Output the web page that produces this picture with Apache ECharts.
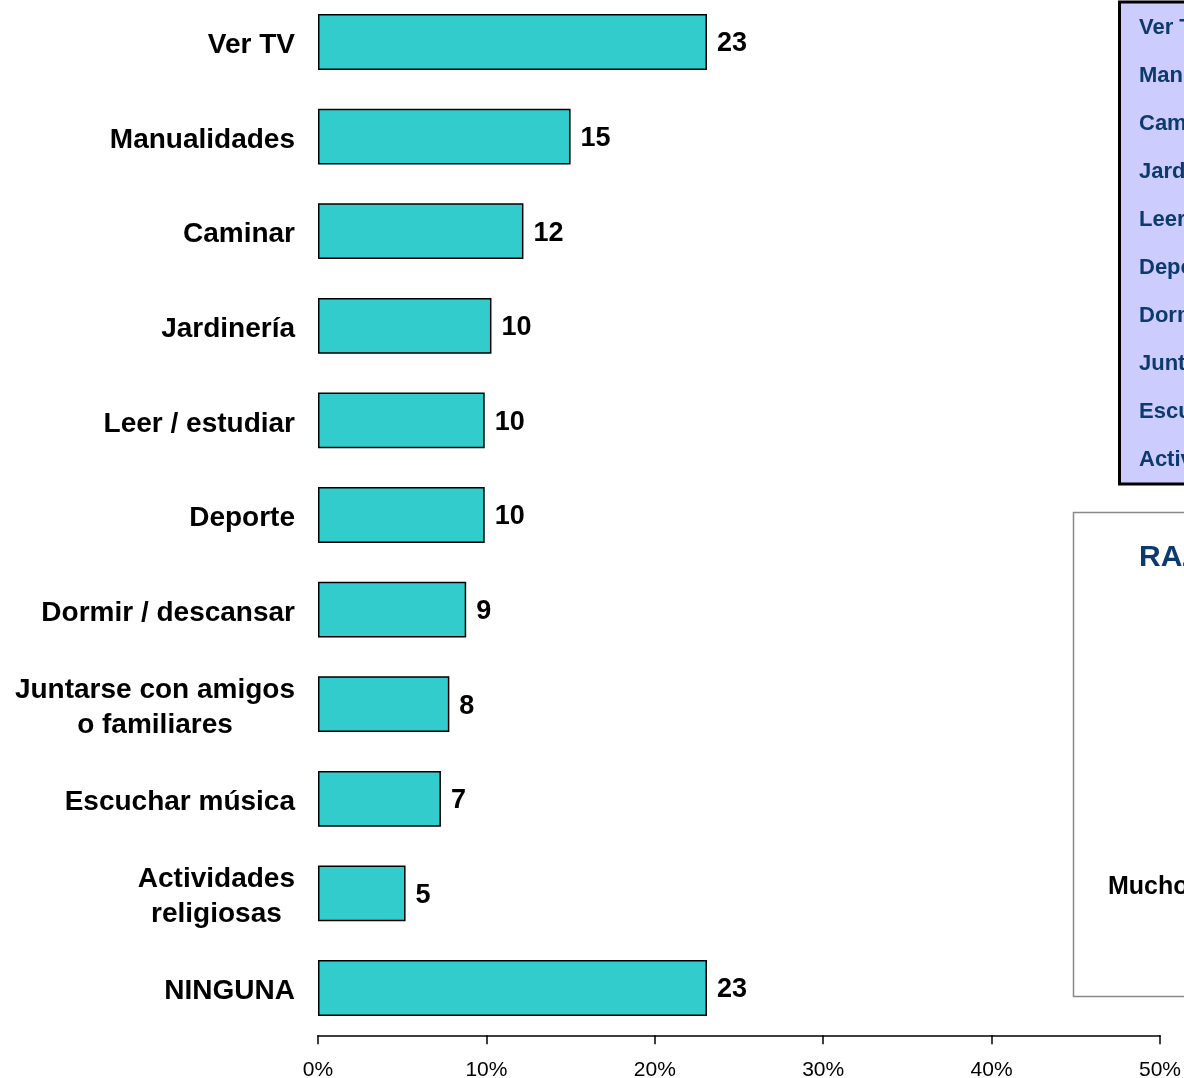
<!DOCTYPE html>
<html lang="es">
<head>
    <meta charset="UTF-8">
    <title>Actividades</title>
    <script src="https://cdn.jsdelivr.net/npm/echarts@6/dist/echarts.min.js"></script>
    <style>
        html, body { margin: 0; padding: 0; background: #fff; }
    </style>
</head>
<body>
    <div id="ec" style="width:1184px;height:1078px"></div>
</body>
<script>
    // datos
    var categories = ['Ver TV', 'Manualidades', 'Caminar', 'Jardinería', 'Leer / estudiar', 'Deporte',
        'Dormir / descansar', 'Juntarse con amigos\no familiares', 'Escuchar música',
        'Actividades\nreligiosas', 'NINGUNA']
    var values = [23.1, 15.0, 12.2, 10.3, 9.9, 9.9, 8.8, 7.8, 7.3, 5.2, 23.1]
    var xTicks = [0, 10, 20, 30, 40, 50]

    // textos del cuadro de la derecha (cortado en el borde)
    var tableRows = ['Ver TV', 'Manualidades', 'Caminar', 'Jardinería', 'Leer / estudiar', 'Deporte',
        'Dormir / descansar', 'Juntarse con amigos', 'Escuchar música', 'Actividades religiosas']
    var boxTitle = 'RAZONES'
    var boxLabel = 'Mucho'

    var ech = document.getElementById("ec")
    var mychart = echarts.init(ech)

    var graphics = [
        {
            type: 'rect',
            shape: { x: 1119.5, y: 2, width: 120, height: 482 },
            style: { fill: '#ccccff', stroke: '#000', lineWidth: 3 }
        },
        {
            type: 'rect',
            shape: { x: 1073.5, y: 512.5, width: 150, height: 484 },
            style: { fill: '#fff', stroke: '#888', lineWidth: 1.5 }
        },
        {
            type: 'text',
            x: 1139, y: 558,
            style: { text: boxTitle, fill: '#0d3a6e', font: 'bold 30px "Liberation Sans", Arial', textVerticalAlign: 'middle' }
        },
        {
            type: 'text',
            x: 1108, y: 887,
            style: { text: boxLabel, fill: '#000', font: 'bold 25px "Liberation Sans", Arial', textVerticalAlign: 'middle' }
        }
    ]
    tableRows.forEach(function (t, i) {
        graphics.push({
            type: 'text',
            x: 1139, y: 28 + i * 48,
            style: { text: t, fill: '#0d3a6e', font: 'bold 22px "Liberation Sans", Arial', textVerticalAlign: 'middle' }
        })
    })

    var options = {
        animation: false,
        backgroundColor: '#fff',
        grid: {
            left: 318,
            right: 24,
            top: -5.3,
            bottom: 42.7,
            containLabel: false,
            outerBoundsMode: 'none'
        },
        xAxis: {
            type: 'value',
            min: 0,
            max: 50,
            interval: 10,
            axisLine: { show: true, lineStyle: { color: '#000', width: 1.5 } },
            axisTick: { show: true, inside: false, length: 9, lineStyle: { color: '#000', width: 1.5 } },
            splitLine: { show: false },
            axisLabel: {
                margin: 24,
                color: '#000',
                fontSize: 21,
                fontFamily: '"Liberation Sans", Arial',
                formatter: function (v) { return xTicks.indexOf(v) >= 0 ? v + '%' : '' }
            }
        },
        yAxis: {
            type: 'category',
            inverse: true,
            data: categories,
            axisLine: { show: false },
            axisTick: { show: false },
            axisLabel: {
                margin: 23,
                color: '#000',
                formatter: function (v) {
                    return v.split('\n').map(function (s) { return '{c|' + s + '}' }).join('\n')
                },
                rich: {
                    c: {
                        align: 'center',
                        verticalAlign: 'bottom',
                        fontSize: 28,
                        lineHeight: 35,
                        fontWeight: 'bold',
                        fontFamily: '"Liberation Sans", Arial',
                        color: '#000'
                    }
                }
            }
        },
        series: [{
            type: 'bar',
            data: values,
            barWidth: '59%',
            itemStyle: { color: '#33cccc', borderColor: '#000', borderWidth: 1.5 },
            label: {
                show: true,
                position: 'right',
                distance: 10,
                offset: [0, 2],
                color: '#000',
                fontSize: 27,
                fontWeight: 'bold',
                fontFamily: '"Liberation Sans", Arial',
                formatter: function (p) { return Math.round(p.value) }
            }
        }],
        graphic: graphics
    };

    mychart.setOption(options)
</script>
</html>
